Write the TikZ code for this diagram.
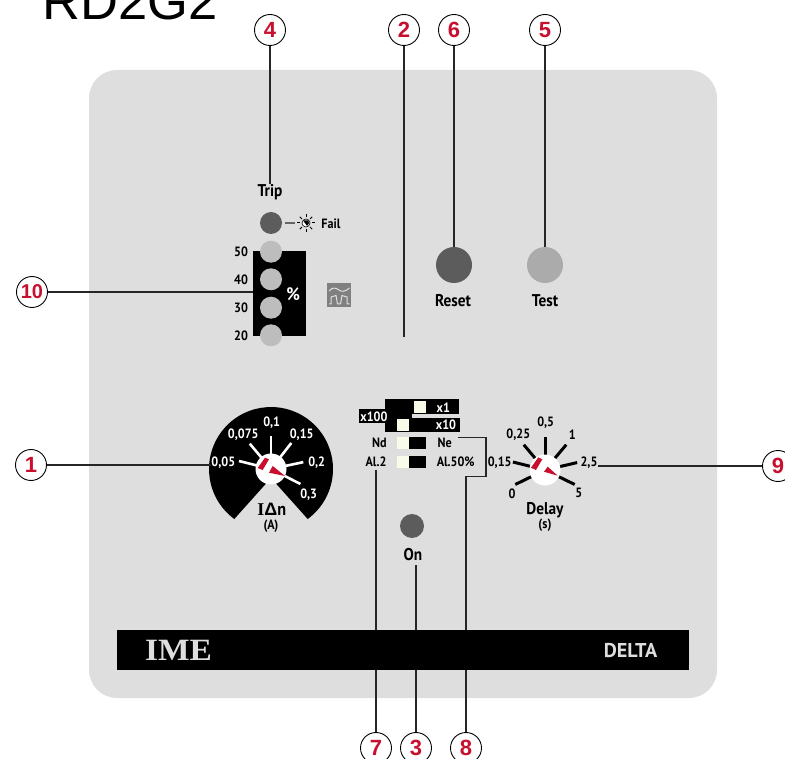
\documentclass[tikz,border=0pt]{standalone}
\usepackage{fontspec}
\setmainfont[FakeStretch=0.9]{PT Sans}
\newfontfamily\heros{Liberation Sans}
\newfontfamily\lserif{Liberation Serif}
\definecolor{panelgray}{HTML}{DEDEDE}
\definecolor{ledon}{HTML}{5C5C5C}
\definecolor{ledoff}{HTML}{BDBDBD}
\definecolor{redmark}{HTML}{C8102E}
\definecolor{cream}{HTML}{F8FBE8}
\tikzset{
  callout/.style={circle,draw=black,line width=0.9pt,fill=white,minimum size=31pt,inner sep=0pt,text=redmark,font=\heros\bfseries\fontsize{22}{22}\selectfont},
  calloutwide/.style={callout,font=\heros\bfseries\fontsize{20}{20}\selectfont},
  leader/.style={draw=black!85,line width=1.2pt},
  lbl/.style={inner sep=0pt,font=\bfseries\fontsize{13.5}{14}\selectfont},
  biglbl/.style={inner sep=0pt,font=\bfseries\fontsize{17}{17}\selectfont},
  smalllbl/.style={inner sep=0pt,font=\bfseries\fontsize{13.5}{14}\selectfont},
  inv/.style={lbl,text=white},
  led/.style={circle,inner sep=0pt,minimum size=22pt},
  swatch/.style={inner sep=0pt,fill=cream}
}
\begin{document}
\begin{tikzpicture}[x=1pt,y=-1pt]
\useasboundingbox (0,0) rectangle (785,759);
\clip (0,0) rectangle (785,759);
\node[anchor=base west,inner sep=0pt,font=\heros\fontsize{52.5}{52}\selectfont] (title) at (42,20) {RD2G2};
\fill[panelgray,rounded corners=28pt] (89,70) rectangle (717,698);

% callouts
\node[callout] (n4) at (270,30) {4};
\node[callout] (n2) at (404,30) {2};
\node[callout] (n6) at (454,30) {6};
\node[callout] (n5) at (545,30) {5};
\node[calloutwide] (n10) at (32,292) {10};
\node[callout] (n1) at (31,465) {1};
\node[callout] (n9) at (778,466) {9};
\node[callout] (n7) at (376,748) {7};
\node[callout] (n3) at (416,748) {3};
\node[callout] (n8) at (466,748) {8};

% trip column
\node[inner sep=0pt,fill=black,minimum width=53pt,minimum height=84.7pt] (pctbox) at (279.8,293.4) {};
\node[led,fill=ledon] (trip) at (271,223) {};
\node[led,fill=ledoff] (l50) at (271,251.7) {};
\node[led,fill=ledoff] (l40) at (271,279.3) {};
\node[led,fill=ledoff] (l30) at (271,307.7) {};
\node[led,fill=ledoff] (l20) at (271,335.3) {};
\node[lbl] (t50) at (241,251.7) {50};
\node[lbl] (t40) at (241,279.3) {40};
\node[lbl] (t30) at (241,307.7) {30};
\node[lbl] (t20) at (241,335.3) {20};
\node[inner sep=0pt,text=white,font=\bfseries\fontsize{18}{18}\selectfont] (pct) at (293.3,294.3) {\%};
\node[biglbl] (triptxt) at (270,192) {Trip};
\node[lbl] (fail) at (331,223.5) {Fail};
% sun icon
\coordinate (sun) at (306,223);
\draw[draw=black!60,line width=1.1pt] (trip.east) ++(3,0) -- ++(10,0);
\foreach \a in {0,45,...,315}{\draw[line width=1pt] (sun) ++(\a:5.8) -- ++(\a:3);}
\draw[line width=0.6pt,fill=white] (sun) circle[radius=4pt];
\fill (sun) ++(-3,-2.6) -- ++(5.5,0) arc[start angle=30,end angle=-60,radius=4pt] -- cycle;
% wave icon
\node[inner sep=0pt,fill=black!50,minimum size=24.3pt] (wave) at (339.2,295) {};
\draw[black!12,line width=1pt] (329,291) .. controls (333,286.5) and (336,288) .. (339,290) .. controls (342,292) and (345,292) .. (349.5,288);
\draw[black!12,line width=1pt] (329,304) -- (331,304) -- (331,297) -- (336,295.5) -- (337.5,304) -- (340.5,304) -- (342,295.5) -- (347,297) -- (347,304) -- (349.5,304);

% reset test
\node[circle,inner sep=0pt,minimum size=36pt,fill=ledon] (reset) at (454,265) {};
\node[circle,inner sep=0pt,minimum size=36pt,fill=black!33] (test) at (545,265) {};
\node[biglbl] (resettxt) at (453,301) {Reset};
\node[biglbl] (testtxt) at (545,301) {Test};

% dial 1
\fill (271,478) -- (234.3,519) arc[start angle=233.7,end angle=-53.7,radius=62pt] -- cycle;
\coordinate (d1) at (271,469);
\foreach \a in {-166,-130,-90,-52,-12,27}{\draw[white,line width=2.6pt] (d1) ++(\a:12) -- ++(\a:21);}
\node[circle,fill=white,inner sep=0pt,minimum size=31pt] (d1c) at (d1) {};
\fill[redmark] (265,457.7) -- (269,459.3) -- (262.7,470) -- (257.7,468) -- cycle;
\fill[redmark] (272.7,466) -- (285,476) -- (269,472.7) -- cycle;
\node[inv] (a1) at (223.3,462.3) {0,05};
\node[inv] (a2) at (243.3,435) {0,075};
\node[inv] (a3) at (271.7,422.3) {0,1};
\node[inv] (a4) at (301.7,435) {0,15};
\node[inv] (a5) at (316.7,462.3) {0,2};
\node[inv] (a6) at (308.7,494.3) {0,3};
\node[inner sep=0pt,font=\bfseries\fontsize{18}{18}\selectfont] (idn) at (271.7,509) {{\lserif I}{\heros Δ}n};
\node[smalllbl] (amp) at (271,525.7) {(A)};

% switches
\fill (359,409) rectangle (387.7,422.7);
\fill (385,399.3) rectangle (459.3,413.7);
\fill (385,418.3) rectangle (460,431.7);
\fill (385,413) rectangle (411.7,418.3);
\node[inv] (x100) at (374,416.7) {x100};
\node[inv] (x1) at (443.3,407.3) {x1};
\node[inv] (x10) at (446,425) {x10};
\fill[cream] (414.3,400.7) rectangle (426.3,413);
\fill[cream] (397.3,419.3) rectangle (409.3,431);
\fill[cream] (397.3,437.3) rectangle (409.3,448.7);
\fill (409.3,437.3) rectangle (426.3,448.7);
\fill[cream] (397.3,456) rectangle (409.3,467.7);
\fill (409.3,456) rectangle (426.3,467.7);
\node[lbl] (nd) at (379.3,443.3) {Nd};
\node[lbl] (ne) at (444.7,443.3) {Ne};
\node[lbl] (al2) at (376,462) {Al.2};
\node[lbl] (al50) at (455.7,462) {Al.50\%};

% dial 2
\coordinate (d2) at (545,470);
\foreach \a in {154,-166,-130,-90,-50,-13,26}{\draw[line width=3pt] (d2) ++(\a:14) -- ++(\a:19);}
\node[circle,fill=white,inner sep=0pt,minimum size=31pt] (d2c) at (d2) {};
\fill[redmark] (538.3,457.3) -- (542.3,459.3) -- (536,470) -- (531,467.7) -- cycle;
\fill[redmark] (547.7,466.7) -- (557.7,475.7) -- (544,471.7) -- cycle;
\node[lbl] (b1) at (512,493.3) {0};
\node[lbl] (b2) at (499.7,462.3) {0,15};
\node[lbl] (b3) at (518.3,435) {0,25};
\node[lbl] (b4) at (545.7,422.7) {0,5};
\node[lbl] (b5) at (572.3,435) {1};
\node[lbl] (b6) at (589,462.7) {2,5};
\node[lbl] (b7) at (578.7,493.3) {5};
\node[biglbl] (delay) at (545,510) {Delay};
\node[smalllbl] (sec) at (545,525) {(s)};

% on
\node[circle,inner sep=0pt,minimum size=24pt,fill=ledon] (on) at (412,526) {};
\node[biglbl] (ontxt) at (413,555) {On};

% leaders
\coordinate (e4) at (270,184);
\coordinate (e2) at (404,337);
\coordinate (e1) at (211,465);
\coordinate (e9) at (597.7,466);
\coordinate (e7) at (376,470);
\coordinate (e3) at (416,565);
\coordinate (e8) at (457.7,437.3);
\draw[leader] (n4) -- (e4);
\draw[leader] (n2) -- (e2);
\draw[leader] (n6) -- (reset);
\draw[leader] (n5) -- (test);
\draw[leader] (n10) -- (pctbox.west |- n10);
\draw[leader] (n1) -- (e1);
\draw[leader] (n9) -- (e9);
\draw[leader] (n7) -- (e7);
\draw[leader] (n3) -- (e3);
\draw[leader] (n8) |- (486,476.7) |- (e8);

% band
\node[inner sep=0pt,fill=black,minimum width=572pt,minimum height=40pt] (band) at (403,650) {};
\node[inner sep=0pt,text=panelgray,xscale=1.08,font=\lserif\bfseries\fontsize{31}{31}\selectfont] (ime) at (178.5,650) {IME};
\node[inner sep=0pt,text=panelgray,xscale=1.12,font=\bfseries\fontsize{20}{20}\selectfont] (delta) at (630.5,651) {DELTA};
\end{tikzpicture}
\end{document}
